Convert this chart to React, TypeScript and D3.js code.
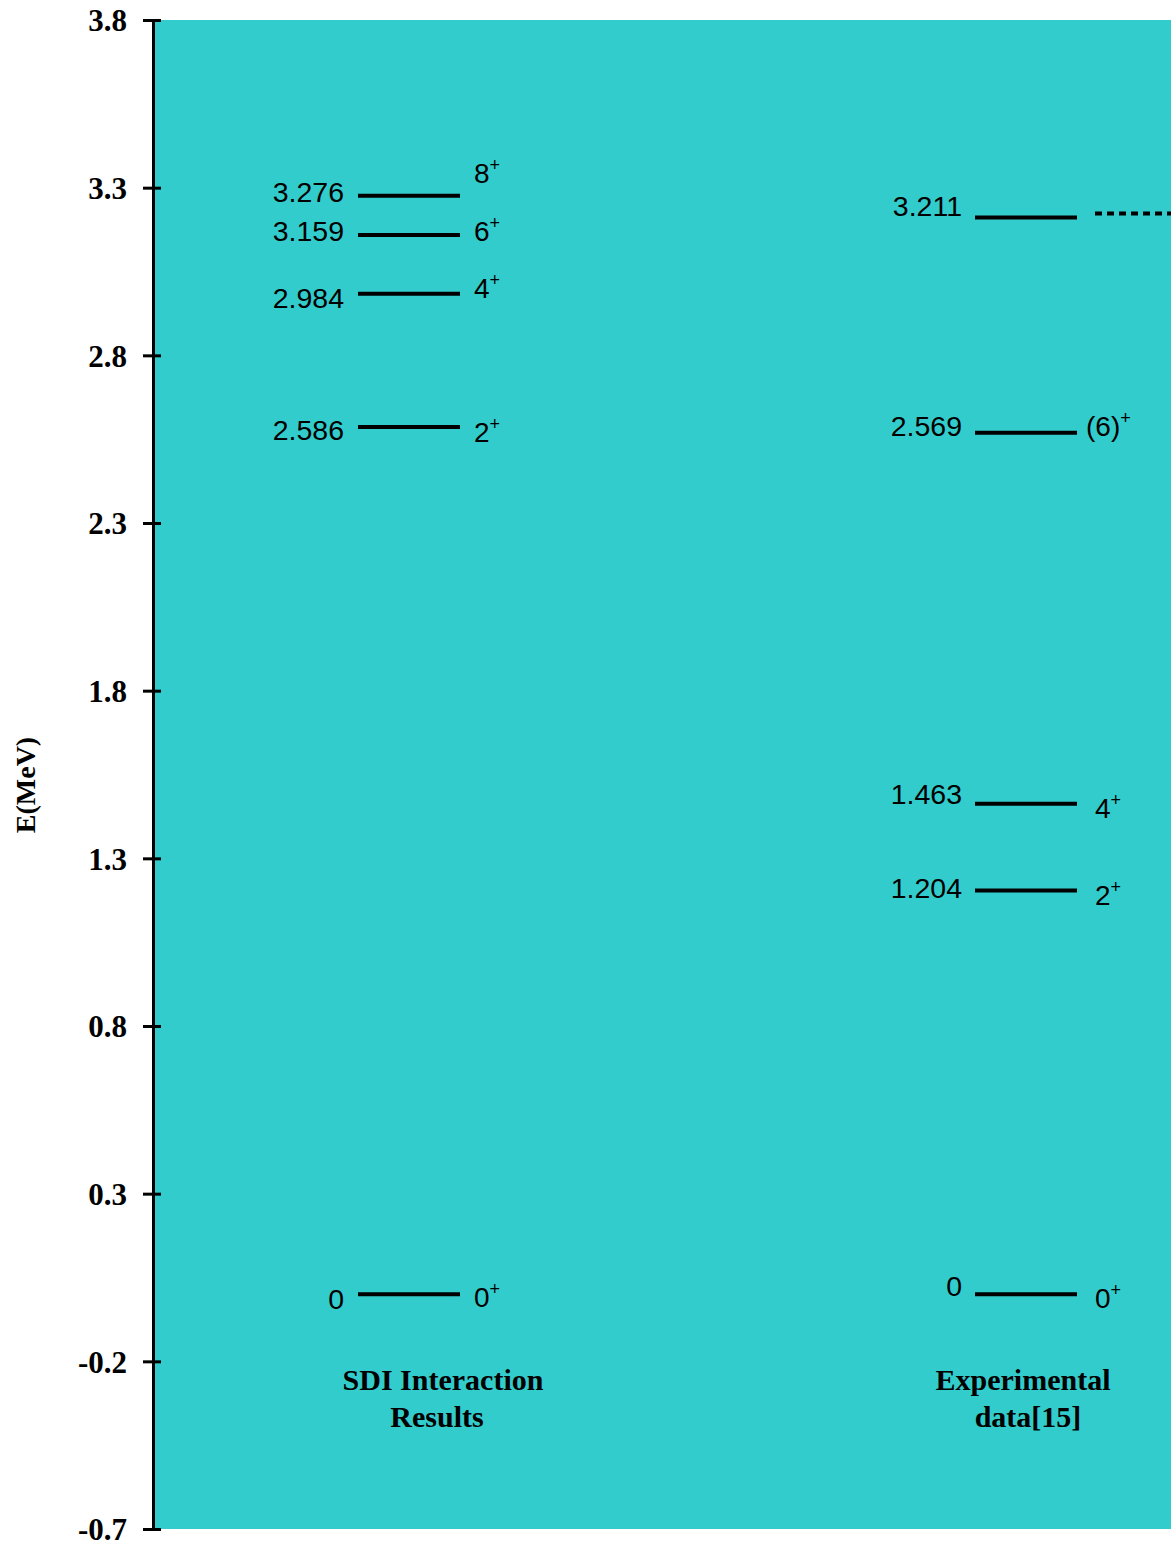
import React, { useEffect, useRef } from "react";
import * as d3 from "d3";

// energy levels (MeV) and spins, per column
const columns = ["SDI", "EXP"];
const sdiEnergies = [0, 2.586, 2.984, 3.159, 3.276];
const sdiSpins = ["0", "2", "4", "6", "8"];
const expEnergies = [0, 1.204, 1.463, 2.569, 3.211];
const expSpins = ["0", "2", "4", "(6)", ""];
const sdiTitle = ["SDI Interaction", "Results"];
const expTitle = ["Experimental", "data[15]"];
const yTicks = [3.8, 3.3, 2.8, 2.3, 1.8, 1.3, 0.8, 0.3, -0.2, -0.7];
const yDomain = [-0.7, 3.8];

// small label nudges (px below the level line) to follow the original layout
const sdiValueDy = [15, 13, 14, 6, 6];
const sdiSpinDy = [13, 15, 4, 6, -13];
const expValueDy = [2, 7, 0, 3, -2];
const expSpinDy = [14, 14, 14, 3, 0];

const App = () => {
  const svgRef = useRef(null);

  useEffect(() => {
    const width = 1171;
    const height = 1544;
    const top = 20;
    const bottom = 1529;
    const axisX = 153;

    const svg = d3.select(svgRef.current);
    svg.selectAll("*").remove();
    svg.attr("width", width).attr("height", height);

    const y = d3.scaleLinear().domain(yDomain).range([bottom, top]);
    const x = d3.scalePoint().domain(columns).range([409, 1026]);

    // background panel
    svg.append("rect")
      .attr("x", axisX + 1)
      .attr("y", top)
      .attr("width", width - axisX - 1)
      .attr("height", bottom - top)
      .attr("fill", "#33CCCC");

    // y axis
    const axis = svg.append("g")
      .attr("transform", `translate(${axisX},0)`)
      .call(d3.axisLeft(y).tickValues(yTicks).tickSizeOuter(0).tickSize(10).tickFormat((d) => d.toFixed(1)));
    axis.select(".domain").attr("stroke", "#000").attr("stroke-width", 3);
    axis.selectAll(".tick line").attr("x1", 8).attr("x2", -10).attr("stroke-width", 3);
    axis.selectAll(".tick text")
      .attr("x", -26)
      .attr("dy", "0.35em")
      .attr("fill", "#000")
      .style("font-family", "'Liberation Serif', 'Times New Roman', serif")
      .style("font-weight", "bold")
      .style("font-size", "31px");

    svg.append("text")
      .attr("transform", `translate(35,785) rotate(-90)`)
      .attr("text-anchor", "middle")
      .style("font-family", "'Liberation Serif', 'Times New Roman', serif")
      .style("font-weight", "bold")
      .style("font-size", "28px")
      .text("E(MeV)");

    const sans = "'Liberation Sans', Arial, sans-serif";

    const drawColumn = (col, energies, spins, valueDy, spinDy, valueEnd, spinStart) => {
      const cx = x(col);
      const g = svg.append("g");
      g.selectAll("line.level")
        .data(energies)
        .enter()
        .append("line")
        .attr("class", "level")
        .attr("x1", cx - 51)
        .attr("x2", cx + 51)
        .attr("y1", (d) => y(d))
        .attr("y2", (d) => y(d))
        .attr("stroke", "#000")
        .attr("stroke-width", 4);

      g.selectAll("text.value")
        .data(energies)
        .enter()
        .append("text")
        .attr("class", "value")
        .attr("x", valueEnd)
        .attr("y", (d, i) => y(d) + valueDy[i])
        .attr("text-anchor", "end")
        .style("font-family", sans)
        .style("font-size", "28.5px")
        .text((d) => (d === 0 ? "0" : d3.format(".3f")(d)));

      const spinText = g.selectAll("text.spin")
        .data(energies.map((e, i) => ({ e, s: spins[i], dy: spinDy[i] })).filter((d) => d.s !== ""))
        .enter()
        .append("text")
        .attr("class", "spin")
        .attr("x", spinStart)
        .attr("y", (d) => y(d.e) + d.dy)
        .style("font-family", sans)
        .style("font-size", "28px");
      spinText.append("tspan").text((d) => d.s);
      spinText.append("tspan").attr("dy", -12).style("font-size", "18px").text("+");
    };

    drawColumn("SDI", sdiEnergies, sdiSpins, sdiValueDy, sdiSpinDy, 344, 474);
    drawColumn("EXP", expEnergies, expSpins, expValueDy, expSpinDy, 962, 1095);

    // the (6)+ label sits closer to its line
    svg.selectAll("text.spin").filter((d) => d.s === "(6)").attr("x", 1086);

    // dashed continuation at the top experimental level
    const topExp = expEnergies[expEnergies.length - 1];
    svg.append("line")
      .attr("x1", 1095)
      .attr("x2", width)
      .attr("y1", y(topExp) - 4)
      .attr("y2", y(topExp) - 4)
      .attr("stroke", "#000")
      .attr("stroke-width", 4)
      .attr("stroke-dasharray", "7,5");

    // column titles
    const titles = [
      { lines: sdiTitle, cx: x("SDI") + 34, dx: [0, -6] },
      { lines: expTitle, cx: x("EXP") - 3, dx: [0, 5] },
    ];
    titles.forEach((t) => {
      t.lines.forEach((line, i) => {
        svg.append("text")
          .attr("x", t.cx + t.dx[i])
          .attr("y", 1390 + i * 37)
          .attr("text-anchor", "middle")
          .style("font-family", "'Liberation Serif', 'Times New Roman', serif")
          .style("font-weight", "bold")
          .style("font-size", "30px")
          .text(line);
      });
    });
  }, []);

  return (
    <div>
      <svg ref={svgRef} style={{ position: "absolute", left: 0, top: 0, display: "block" }}></svg>
    </div>
  );
};

export default App;
